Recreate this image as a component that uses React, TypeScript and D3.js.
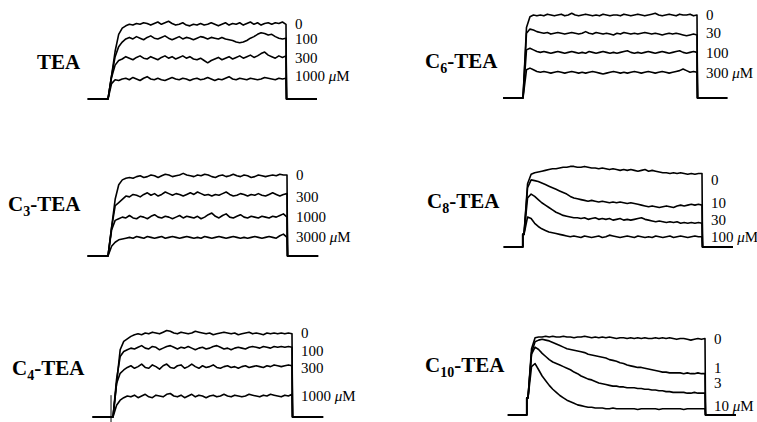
import React from 'react';
import * as d3 from 'd3';

// Time course: depolarizing pulse of 50 ms; current values are % of control current,
// sampled at 1 ms steps from pulse onset (t = 0) to pulse end (t = 50).
const PULSE_MS = 50;
const PRE_MS = 5.7;
const POST_MS = 8.7;

// ---------- TEA ----------
const teaConc = ['0', '100', '300', '1000'];
const tea_0 = [0,30,62,84,92,95,97,96,98,97,99,98,96,98,100,97,99,101,98,96,97,99,96,95,97,96,98,96,97,99,97,95,97,99,96,98,97,99,96,98,100,97,99,96,98,99,97,99,98,100,97];
const tea_100 = [0,30,55,68,74,78,80,78,81,79,77,80,82,79,78,80,82,79,77,79,81,78,80,79,77,79,81,80,78,80,79,78,80,78,77,76,74,73,74,76,79,81,84,86,85,83,84,81,79,78,79];
const tea_300 = [0,28,44,50,52,55,53,51,54,56,53,52,55,53,51,54,56,53,55,52,54,56,53,55,52,51,53,50,47,50,52,54,51,53,55,52,54,56,53,55,57,54,56,59,61,57,55,53,56,54,56];
const tea_1000 = [0,20,25,24,26,27,25,28,26,24,27,29,26,25,27,25,24,26,28,26,25,27,26,24,26,27,25,26,28,26,24,26,25,27,29,26,25,27,26,25,27,26,25,26,28,27,26,25,27,26,27];

// ---------- C3-TEA ----------
const c3Conc = ['0', '300', '1000', '3000'];
const c3_0 = [0,35,70,88,94,96,97,96,98,99,97,98,100,99,97,99,101,100,98,99,100,102,100,99,98,100,99,101,100,98,97,99,100,98,99,101,99,98,100,99,97,98,100,99,98,99,100,99,101,100,100];
const c3_300 = [0,35,62,66,70,74,73,76,75,73,76,78,75,77,74,76,79,77,75,77,76,74,76,78,76,79,77,75,76,74,76,75,77,79,76,74,75,77,76,74,76,75,77,75,74,76,78,76,74,76,77];
const c3_1000 = [0,32,44,46,48,47,50,47,46,49,48,46,49,51,48,47,49,48,46,48,50,47,49,48,47,49,46,48,51,53,49,47,50,52,48,47,49,51,48,47,49,48,47,49,48,47,49,48,50,52,48];
const c3_3000 = [0,12,17,20,21,22,23,22,24,23,22,24,23,22,23,24,22,23,24,23,22,23,24,23,22,23,22,24,23,22,23,24,23,22,23,24,23,22,23,22,23,24,23,22,23,24,23,22,25,27,23];

// ---------- C4-TEA ----------
const c4Conc = ['0', '100', '300', '1000'];
const c4_0 = [0,40,80,90,93,96,98,99,98,100,99,101,100,99,101,103,102,100,99,101,100,99,100,102,101,100,99,100,98,99,100,101,100,99,100,98,99,100,101,99,100,99,98,100,99,100,99,100,99,100,99];
const c4_100 = [0,45,72,78,80,82,81,83,85,82,81,84,83,80,82,84,85,83,81,83,82,84,82,80,82,83,81,82,84,85,83,81,82,80,82,83,82,81,83,84,83,82,84,83,82,84,83,84,83,84,83];
const c4_300 = [0,40,52,56,59,61,58,60,63,59,58,62,60,57,61,63,59,58,61,62,58,60,63,60,58,61,59,60,62,59,58,60,61,59,60,58,60,61,59,60,61,60,59,61,60,62,61,60,61,62,61];
const c4_1000 = [0,14,20,23,25,24,26,23,25,27,24,23,26,25,24,27,28,25,24,26,23,25,27,24,26,25,23,25,26,24,25,27,25,24,26,25,24,25,27,26,25,24,26,25,27,26,25,24,26,25,27];
// capacitive transient at pulse onset (min, max, % of control)
const c4Transient = [-6, 26];

// ---------- C6-TEA ----------
const c6Conc = ['0', '30', '100', '300'];
const c6_0 = [0,85,98,100,99,100,99,101,100,99,100,101,99,100,102,100,99,100,101,100,99,100,99,101,100,99,100,100,99,101,100,99,100,101,100,99,100,101,102,100,99,100,101,100,99,101,100,100,101,99,100];
const c6_30 = [0,78,83,82,80,79,78,79,77,78,79,78,77,78,79,78,77,78,80,78,77,79,78,77,78,77,76,78,77,79,78,77,78,77,78,79,78,77,78,77,76,77,78,77,78,77,76,75,76,77,76];
const c6_100 = [0,58,60,58,56,55,56,55,54,55,56,55,54,55,56,55,54,55,54,56,55,54,55,56,55,54,55,54,55,56,57,55,54,55,54,55,56,55,54,55,56,55,54,55,56,57,55,54,55,56,55];
const c6_300 = [0,34,36,34,32,31,32,31,30,31,32,31,30,31,32,31,30,31,30,31,32,31,30,29,30,31,32,31,30,31,30,31,32,31,30,31,32,31,30,31,32,31,30,31,32,33,35,33,31,32,31];

// ---------- C8-TEA ----------
const c8Conc = ['0', '10', '30', '100'];
const c8_0 = [0,80,92,94,95,96,97,98,99,99,100,101,101,102,102,101,101,102,101,100,100,99,100,99,98,99,98,97,98,97,98,97,96,97,98,96,97,96,95,94,94,93,94,93,94,93,92,93,92,93,93];
const c8_10 = [0,75,85,84,83,81,79,77,75,73,71,69,67,64,62,61,60,59,58,59,58,57,58,57,56,57,56,57,56,55,56,55,54,53,52,51,52,51,50,51,52,51,50,52,53,52,53,54,53,54,53];
const c8_30 = [0,62,67,64,60,56,53,50,47,44,42,40,39,38,37,37,36,37,35,36,37,35,36,35,36,34,35,36,34,35,34,35,36,37,35,34,33,32,33,32,31,32,31,32,30,31,30,31,30,31,30];
const c8_100 = [0,38,36,30,26,23,21,19,18,17,16,15,14,13,14,13,12,14,13,12,13,14,12,13,15,14,13,12,13,14,13,12,14,13,12,13,12,14,13,12,13,14,12,13,14,13,12,13,14,13,13];
const c8OnsetStep = 16;

// ---------- C10-TEA ----------
const c10Conc = ['0', '1', '3', '10'];
const c10_0 = [0,85,99,100,100,101,100,101,100,100,101,100,100,99,100,100,101,100,99,100,99,100,99,100,99,98,99,99,98,99,98,99,98,99,98,98,99,98,99,98,99,98,97,98,98,97,96,97,98,97,98];
const c10_1 = [0,80,94,96,97,96,95,93,91,89,87,85,84,83,82,81,80,78,77,76,75,74,73,71,70,69,67,66,64,63,62,61,61,60,59,58,57,56,55,55,54,54,54,54,53,54,53,53,54,53,53];
const c10_3 = [0,78,87,84,79,75,71,68,66,64,62,60,58,55,53,50,48,46,45,43,41,40,39,38,37,37,36,36,35,35,35,34,34,33,33,32,32,31,31,30,30,29,29,29,29,28,28,29,28,28,28];
const c10_10 = [0,62,66,58,50,44,38,33,29,25,22,19,17,15,13,12,11,10,10,9,9,9,8,8,9,8,8,8,8,8,8,7,8,8,8,8,8,7,8,8,8,8,8,8,7,8,8,8,8,8,8];
const c10OnsetStep = 22;

const UNIT = 'μM';

type Panel = {
  name: string;
  sub: string;
  conc: string[];
  traces: number[][];
  onsetStep: number;
  transient: number[] | null;
  titleX: number;
  titleY: number;
  xRise: number;
  pulseW: number;
  baseY: number;
  topY: number;
  labelDy: number[];
};

const panels: Panel[] = [
  { name: 'TEA', sub: '', conc: teaConc, traces: [tea_0, tea_100, tea_300, tea_1000], onsetStep: 0, transient: null,
    titleX: 37, titleY: 69, xRise: 108, pulseW: 178, baseY: 99, topY: 22, labelDy: [0, 1, 2, -2] },
  { name: 'TEA', sub: '3', conc: c3Conc, traces: [c3_0, c3_300, c3_1000, c3_3000], onsetStep: 0, transient: null,
    titleX: 8, titleY: 211, xRise: 108, pulseW: 179, baseY: 256, topY: 175, labelDy: [0, 3, 0, 0] },
  { name: 'TEA', sub: '4', conc: c4Conc, traces: [c4_0, c4_100, c4_300, c4_1000], onsetStep: 0, transient: c4Transient,
    titleX: 12, titleY: 375, xRise: 113, pulseW: 179, baseY: 417, topY: 333, labelDy: [-1, 4, 2, 2] },
  { name: 'TEA', sub: '6', conc: c6Conc, traces: [c6_0, c6_30, c6_100, c6_300], onsetStep: 0, transient: null,
    titleX: 425, titleY: 68, xRise: 523, pulseW: 174, baseY: 98, topY: 15, labelDy: [0, -2, 1, 1] },
  { name: 'TEA', sub: '8', conc: c8Conc, traces: [c8_0, c8_10, c8_30, c8_100], onsetStep: c8OnsetStep, transient: null,
    titleX: 427, titleY: 208, xRise: 524, pulseW: 178, baseY: 247, topY: 168, labelDy: [6, -2, -3, 0] },
  { name: 'TEA', sub: '10', conc: c10Conc, traces: [c10_0, c10_1, c10_3, c10_10], onsetStep: c10OnsetStep, transient: null,
    titleX: 425, titleY: 372, xRise: 528, pulseW: 177, baseY: 415, topY: 337, labelDy: [0, -6, -10, -3] },
];

const FONT = '"Liberation Serif", "Times New Roman", serif';

function PanelView({ p }: { p: Panel }) {
  const x = d3.scaleLinear().domain([0, PULSE_MS]).range([p.xRise, p.xRise + p.pulseW]);
  const y = d3.scaleLinear().domain([0, 100]).range([p.baseY, p.topY]);
  const line = d3.line<[number, number]>()
    .x((d) => x(d[0]))
    .y((d) => y(d[1]))
    .curve(d3.curveLinear);

  const paths = p.traces.map((vals) => {
    const n = vals.length;
    const pts: [number, number][] = [[-PRE_MS, 0]];
    if (p.onsetStep > 0) {
      pts.push([-0.35, 0], [-0.35, p.onsetStep], [0, p.onsetStep]);
    } else {
      pts.push([0, 0]);
    }
    vals.forEach((v, i) => {
      if (i === 0) return;
      pts.push([(i * PULSE_MS) / (n - 1), v]);
    });
    pts.push([PULSE_MS + 0.15, 0]);
    pts.push([PULSE_MS + POST_MS, 0]);
    return line(pts) as string;
  });

  const transientPath = p.transient
    ? (line([[-0.55, p.transient[0]], [-0.55, p.transient[1]]]) as string)
    : null;

  const labelX = x(PULSE_MS) + 9;

  return (
    <g>
      <text x={p.titleX} y={p.titleY} fontFamily={FONT} fontWeight="bold" fontSize={21} fill="#000">
        {p.sub ? (
          <>
            <tspan>C</tspan>
            <tspan fontSize={14} dy={5}>{p.sub}</tspan>
            <tspan dy={-5}>-{p.name}</tspan>
          </>
        ) : (
          p.name
        )}
      </text>
      {transientPath ? <path d={transientPath} fill="none" stroke="#000" strokeWidth={1} /> : null}
      {paths.map((d, i) => (
        <path key={i} d={d} fill="none" stroke="#000" strokeWidth={1.6} strokeLinejoin="round" strokeLinecap="butt" />
      ))}
      {p.conc.map((c, i) => {
        const vals = p.traces[i];
        const yy = y(vals[vals.length - 1]) + p.labelDy[i];
        return (
          <text key={i} x={labelX} y={yy + 5} fontFamily={FONT} fontSize={15} fill="#000">
            {c}
            {i === p.conc.length - 1 ? (
              <>
                <tspan> </tspan>
                <tspan fontStyle="italic">{UNIT.slice(0, 1)}</tspan>
                <tspan>{UNIT.slice(1)}</tspan>
              </>
            ) : null}
          </text>
        );
      })}
    </g>
  );
}

export default function App() {
  return (
    <svg
      width={757}
      height={422}
      viewBox="0 0 757 422"
      style={{ position: 'absolute', left: 0, top: 0, display: 'block', background: '#fff' }}
    >
      <rect x={0} y={0} width={757} height={422} fill="#fff" />
      {panels.map((p, i) => (
        <PanelView key={i} p={p} />
      ))}
    </svg>
  );
}
